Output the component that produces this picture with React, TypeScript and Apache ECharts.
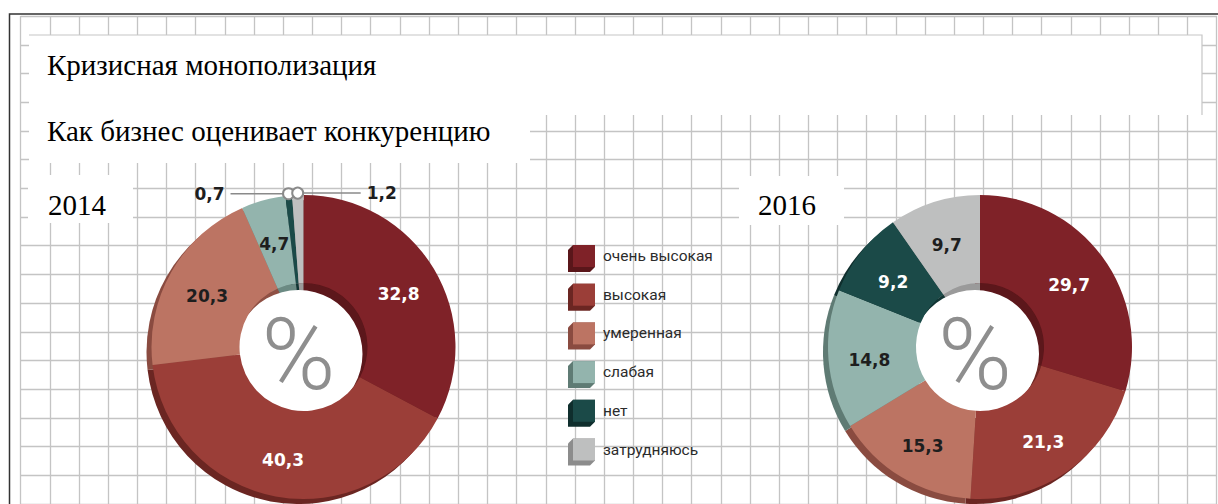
import React, { useEffect, useRef } from 'react';
import * as echarts from 'echarts';

const categories = ['очень высокая', 'высокая', 'умеренная', 'слабая', 'нет', 'затрудняюсь'];
const values2014 = [32.8, 40.3, 20.3, 4.7, 0.7, 1.2];
const values2016 = [29.7, 21.3, 15.3, 14.8, 9.2, 9.7];
const years = ['2014', '2016'];
const titleText = 'Кризисная монополизация';
const subtitleText = 'Как бизнес оценивает конкуренцию';
const centerSymbol = '%';
const outside2014 = [4, 5];

const mainColors = ['#7f2228', '#9b3e38', '#bc7463', '#93b4ad', '#1b4a48', '#bebfbf'];
const sideColors = ['#5a161a', '#6b2622', '#8a4b40', '#5f7b74', '#0f2e2d', '#8c8c8c'];
const wallColors = ['#5c171b', '#6e2824', '#8f5044', '#6b8a83', '#113533', '#9a9a9a'];
const labelColors = ['#ffffff', '#ffffff', '#1e1e1e', '#1e1e1e', '#ffffff', '#1e1e1e'];

const R_OUT = 152;
const R_IN = 64;
const CENTERS: [number, number][] = [[303.5, 347], [980, 347]];
const SHADOW = [-5, 5];
const HOLE = [-5, 7];

const fmt = (v: number) => String(v).replace('.', ',');

function markerPos(values: number[], idx: number, cx: number, cy: number, r: number): [number, number] {
  const total = values.reduce((a, b) => a + b, 0);
  let before = 0;
  for (let k = 0; k < idx; k++) before += values[k];
  const a = ((before + values[idx] / 2) / total) * Math.PI * 2;
  return [cx + r * Math.sin(a), cy - r * Math.cos(a)];
}

function donutSeries(values: number[], cx: number, cy: number, outside: number[]) {
  const base = { type: 'pie', silent: true, startAngle: 90, clockwise: true, avoidLabelOverlap: false, animation: false };
  return [
    {
      ...base, z: 2, center: [cx + SHADOW[0], cy + SHADOW[1]], radius: [0, R_OUT],
      label: { show: false }, labelLine: { show: false },
      data: values.map((v, i) => ({ name: categories[i], value: v, itemStyle: { color: sideColors[i] } })),
    },
    {
      ...base, z: 3, center: [cx, cy], radius: [0, R_IN],
      label: { show: false }, labelLine: { show: false },
      data: values.map((v, i) => ({ name: categories[i], value: v, itemStyle: { color: wallColors[i] } })),
    },
    {
      ...base, z: 4, center: [cx + HOLE[0], cy + HOLE[1]], radius: [0, R_IN],
      label: { show: true, position: 'center', formatter: centerSymbol, fontSize: 100, fontFamily: 'Roboto', fontWeight: 300, color: '#8e8e8e' },
      labelLine: { show: false },
      data: [{ name: 'hole', value: 1, itemStyle: { color: '#ffffff' } }],
    },
    {
      ...base, z: 5, center: [cx, cy], radius: [R_IN, R_OUT],
      label: {
        show: true, position: 'inside', formatter: (p: any) => fmt(p.value),
        fontFamily: 'DejaVu Sans', fontWeight: 'bold', fontSize: 17,
      },
      labelLine: { show: false },
      labelLayout: (params: any) => {
        const i = params.dataIndex;
        if (!outside.includes(i)) return { dy: 4 };
        const [mx, my] = markerPos(values, i, cx, cy, R_OUT + 2);
        const leftSide = i === outside[0];
        const end = leftSide ? mx - 58 : mx + 63;
        return {
          x: leftSide ? mx - 64 : mx + 69, y: my,
          align: leftSide ? 'right' : 'left', verticalAlign: 'middle',
          labelLinePoints: [[mx, my], [(mx + end) / 2, my], [end, my]],
        };
      },
      data: values.map((v, i) => {
        const isOut = outside.includes(i);
        return {
          name: categories[i], value: v,
          itemStyle: { color: mainColors[i] },
          label: isOut ? { position: 'outside', color: '#1e1e1e' } : { color: labelColors[i] },
          labelLine: isOut ? { show: true, lineStyle: { color: '#8a8a8a', width: 1.5 } } : { show: false },
        };
      }),
    },
  ];
}

const serif = "'Liberation Serif', 'Times New Roman', serif";

export default function App() {
  const ref = useRef<HTMLDivElement>(null);
  useEffect(() => {
    if (!ref.current) return;
    const chart = echarts.init(ref.current, undefined, { renderer: 'svg' });
    const [c14, c16] = CENTERS;
    const markers = outside2014.map((i) => markerPos(values2014, i, c14[0], c14[1], R_OUT + 2));
    const gridLine = { show: true, lineStyle: { color: '#c4c4c4', width: 1.3 } };
    const hidden = { axisLine: { show: false }, axisTick: { show: false }, axisLabel: { show: false } };
    chart.setOption({
      animation: false,
      backgroundColor: '#ffffff',
      grid: { left: 20.7, top: 16.1, width: 1196, height: 491.3, containLabel: false },
      xAxis: { type: 'value', min: 0, max: 41, interval: 1, splitLine: gridLine, ...hidden },
      yAxis: { type: 'value', min: 0, max: 17, interval: 1, splitLine: gridLine, ...hidden },
      legend: [
        {
          orient: 'vertical', left: 568, top: 245, padding: 0, itemWidth: 27, itemHeight: 27, itemGap: 11.7,
          icon: 'path://M0,5L5,0L27,0L27,22L22,27L0,27Z', selectedMode: false, formatter: () => '',
          textStyle: { fontSize: 1 }, z: 6,
          data: categories.map((n, i) => ({ name: n, itemStyle: { color: sideColors[i] } })),
        },
        {
          orient: 'vertical', left: 573, top: 245, padding: 0, itemWidth: 22, itemHeight: 22, itemGap: 16.7,
          icon: 'rect', selectedMode: false, z: 7,
          textStyle: { fontFamily: 'Roboto', fontSize: 15.5, color: '#2b2b2b', lineHeight: 15, padding: [7, 0, 0, 3] },
          data: categories.map((n, i) => ({ name: n, itemStyle: { color: mainColors[i] } })),
        },
      ],
      graphic: [
        { type: 'polyline', z: 1, shape: { points: [[9.5, 520], [9.5, 14], [1230, 14]] }, style: { stroke: '#333', lineWidth: 1.5, fill: null } },
        { type: 'rect', z: 1, shape: { x: 29, y: 35, width: 1173, height: 80 }, style: { fill: '#fff' } },
        { type: 'polyline', z: 1, shape: { points: [[29, 35], [1202, 35], [1202, 115]] }, style: { stroke: '#c6c6c6', lineWidth: 1.2, fill: null } },
        { type: 'rect', z: 1, shape: { x: 29, y: 114, width: 501, height: 49 }, style: { fill: '#fff' } },
        { type: 'rect', z: 1, shape: { x: 28, y: 175, width: 105, height: 48 }, style: { fill: '#fff' } },
        { type: 'rect', z: 1, shape: { x: 739, y: 176, width: 105, height: 49 }, style: { fill: '#fff' } },
        { type: 'text', z: 2, x: 47, y: 64.5, style: { text: titleText, fontFamily: serif, fontSize: 29, fill: '#000', verticalAlign: 'middle' } },
        { type: 'text', z: 2, x: 47, y: 131, style: { text: subtitleText, fontFamily: serif, fontSize: 29, fill: '#000', verticalAlign: 'middle' } },
        { type: 'text', z: 2, x: 48, y: 204.5, style: { text: years[0], fontFamily: serif, fontSize: 29, fill: '#000', verticalAlign: 'middle' } },
        { type: 'text', z: 2, x: 758, y: 205, style: { text: years[1], fontFamily: serif, fontSize: 29, fill: '#000', verticalAlign: 'middle' } },
        ...markers.map(([mx, my]) => ({
          type: 'circle', z: 10, shape: { cx: mx, cy: my, r: 5.5 },
          style: { fill: '#fff', stroke: '#8a8a8a', lineWidth: 2 },
        })),
      ],
      series: [
        ...donutSeries(values2014, c14[0], c14[1], outside2014),
        ...donutSeries(values2016, c16[0], c16[1], []),
      ],
    } as any);
    return () => chart.dispose();
  }, []);
  return <div ref={ref} style={{ position: 'fixed', left: 0, top: 0, width: 1218, height: 504 }} />;
}
